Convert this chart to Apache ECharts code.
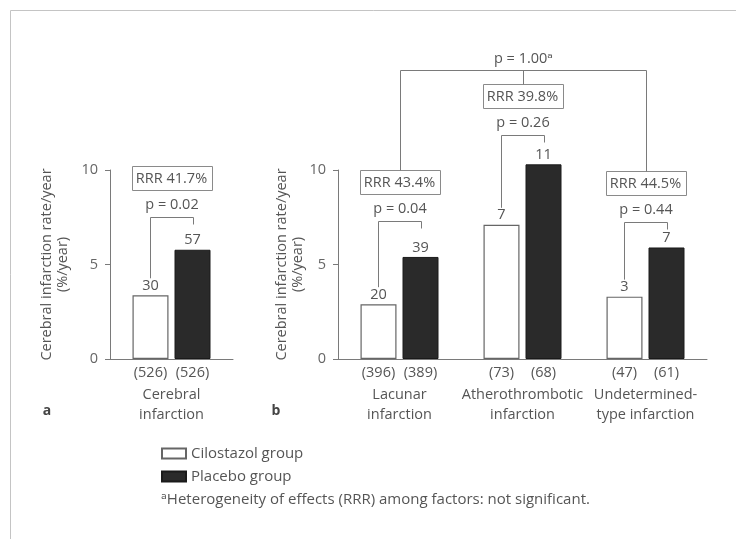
<!DOCTYPE html>
<html>
<head>
<meta charset="utf-8">
<script src="https://cdn.jsdelivr.net/npm/echarts@6/dist/echarts.min.js"></script>
<style>
  html, body { margin: 0; padding: 0; background: #fff; }
  #chart { width: 737px; height: 540px; }
</style>
</head>
<body>
<div id="chart"></div>
<script>
// Cerebral infarction rate per year, cilostazol vs placebo
const categoriesA = [['Cerebral', 'infarction']];
const categoriesB = [['Lacunar', 'infarction'], ['Atherothrombotic', 'infarction'], ['Undetermined-', 'type infarction']];

// rates (%/year)
const cilostazolA = [3.37];
const placeboA = [5.78];
const cilostazolB = [2.9, 7.1, 3.3];
const placeboB = [5.4, 10.3, 5.9];

// number of events above each bar
const eventsCilA = [30];
const eventsPlaA = [57];
const eventsCilB = [20, 7, 3];
const eventsPlaB = [39, 11, 7];

// number of patients under each bar
const nCilA = [526];
const nPlaA = [526];
const nCilB = [396, 73, 47];
const nPlaB = [389, 68, 61];

// comparisons drawn above each pair
const rrrTextA = ['RRR 41.7%'];
const pTextA = ['p = 0.02'];
const rrrTextB = ['RRR 43.4%', 'RRR 39.8%', 'RRR 44.5%'];
const pTextB = ['p = 0.04', 'p = 0.26', 'p = 0.44'];
const pOverall = 'p = 1.00\u1d43';

const yTicks = [0, 5, 10];

const FONT = '"Open Sans", "DejaVu Sans", sans-serif';
const FS = 14.5;
const TEXT = '#555';
const LINE = '#7a7a7a';
const DARK = '#2a2a2a';

const chart = echarts.init(document.getElementById('chart'), null, { renderer: 'canvas' });

function yAxisCfg(gridIndex, nameGap) {
  return {
    gridIndex, type: 'value', min: yTicks[0], max: yTicks[yTicks.length - 1], interval: yTicks[1] - yTicks[0],
    name: 'Cerebral infarction rate/year\n(%/year)', nameLocation: 'middle', nameGap,
    nameMoveOverlap: false,
    nameTextStyle: { fontFamily: FONT, fontSize: FS, color: TEXT, lineHeight: 16 },
    axisLine: { show: true, lineStyle: { color: LINE, width: 1 } },
    axisTick: { show: true, length: 5, lineStyle: { color: LINE } },
    axisLabel: { fontFamily: FONT, fontSize: FS, color: '#666', margin: 12 },
    splitLine: { show: false }
  };
}

function xAxisCfg(gridIndex, cats, nCil, nPla) {
  return {
    gridIndex, type: 'category', data: cats.map(c => c.join(' ')),
    axisLine: { show: true, lineStyle: { color: LINE, width: 1 } },
    axisTick: { show: false },
    axisLabel: {
      interval: 0, margin: 2, hideOverlap: false,
      formatter: (v, i) => `{n|(${nCil[i]})}{n|(${nPla[i]})}\n{c|${cats[i][0]}}\n{c|${cats[i][1]}}`,
      rich: {
        n: { width: 42, align: 'center', fontFamily: FONT, fontSize: FS, color: TEXT, lineHeight: 24 },
        c: { align: 'center', fontFamily: FONT, fontSize: FS, color: TEXT, lineHeight: 20 }
      }
    }
  };
}

function barSeries(name, xi, values, events, isPlacebo) {
  return {
    name, type: 'bar', xAxisIndex: xi, yAxisIndex: xi, data: values,
    barWidth: 36, barGap: '16.7%', clip: false,
    itemStyle: isPlacebo
      ? { color: DARK, borderColor: '#1a1a1a', borderWidth: 1 }
      : { color: '#fff', borderColor: '#666', borderWidth: 1.2 },
    label: {
      show: true, position: 'top', distance: 2,
      fontFamily: FONT, fontSize: FS, color: TEXT,
      formatter: p => String(events[p.dataIndex])
    },
    emphasis: { disabled: true }
  };
}

const option = {
  backgroundColor: '#fff',
  animation: false,
  grid: [
    { left: 110, width: 123, top: 170, bottom: 181 },
    { left: 338, width: 369, top: 170, bottom: 181 }
  ],
  xAxis: [xAxisCfg(0, categoriesA, nCilA, nPlaA), xAxisCfg(1, categoriesB, nCilB, nPlaB)],
  yAxis: [yAxisCfg(0, 39), yAxisCfg(1, 32)],
  legend: {
    orient: 'vertical', left: 161, top: 446, padding: 0, itemWidth: 24, itemHeight: 10, itemGap: 8,
    icon: 'rect', selectedMode: false,
    textStyle: { fontFamily: FONT, fontSize: 15, color: TEXT },
    data: ['Cilostazol group', 'Placebo group']
  },
  series: [
    barSeries('Cilostazol group', 0, cilostazolA, eventsCilA, false),
    barSeries('Placebo group', 0, placeboA, eventsPlaA, true),
    barSeries('Cilostazol group', 1, cilostazolB, eventsCilB, false),
    barSeries('Placebo group', 1, placeboB, eventsPlaB, true)
  ]
};
chart.setOption(option);

// ---- comparison brackets, placed from the axes' own scales ----
function barCenter(seriesIndex, dataIndex) {
  const layout = chart.getModel().getSeriesByIndex(seriesIndex).getData().getItemLayout(dataIndex);
  return { x: layout.x + layout.width / 2, top: Math.min(layout.y, layout.y + layout.height) };
}
const yPix = (axis, v) => chart.convertToPixel({ yAxisIndex: axis }, v);
const xPix = (axis, i) => chart.convertToPixel({ xAxisIndex: axis }, i);

// bracket height (in axis units) for each comparison
const groups = [
  { axis: 0, idx: 0, cil: 0, pla: 1, rrr: rrrTextA[0], p: pTextA[0], level: 7.5 },
  { axis: 1, idx: 0, cil: 2, pla: 3, rrr: rrrTextB[0], p: pTextB[0], level: 7.3 },
  { axis: 1, idx: 1, cil: 2, pla: 3, rrr: rrrTextB[1], p: pTextB[1], level: 11.85 },
  { axis: 1, idx: 2, cil: 2, pla: 3, rrr: rrrTextB[2], p: pTextB[2], level: 7.25 }
];

const lineStyle = { stroke: LINE, lineWidth: 1, fill: null };
const txt = (x, y, text, extra) => ({
  type: 'text', x, y, silent: true,
  style: Object.assign({ text, fill: TEXT, font: `${FS}px ${FONT}`, textAlign: 'center', textVerticalAlign: 'middle' }, extra || {})
});
const poly = pts => ({ type: 'polyline', silent: true, shape: { points: pts }, style: lineStyle });

const elements = [];
const boxes = [];
groups.forEach(g => {
  const c = barCenter(g.cil, g.idx);
  const p = barCenter(g.pla, g.idx);
  const cx = xPix(g.axis, g.idx);
  const yTop = Math.round(yPix(g.axis, g.level)) + 0.5;
  const xl = Math.round(c.x) + 0.5, xr = Math.round(p.x) + 0.5;
  elements.push(poly([[xl, c.top - 17], [xl, yTop], [xr, yTop], [xr, yTop + 7]]));
  const yP = yTop - 13;
  elements.push(txt((xl + xr) / 2, yP, g.p));
  const boxCy = yP - 27;
  const bw = 80, bh = 24;
  elements.push({
    type: 'rect', silent: true,
    shape: { x: Math.round(cx - bw / 2) + 0.5, y: Math.round(boxCy - bh / 2) + 0.5, width: bw, height: bh },
    style: { stroke: '#8a8a8a', lineWidth: 1, fill: null }
  });
  elements.push(txt(cx, boxCy + 1, g.rrr));
  boxes.push({ axis: g.axis, x: Math.round(cx) + 0.5, top: Math.round(boxCy - bh / 2) + 0.5 });
});

// overall heterogeneity bracket across the three subtypes
const bL = boxes[1], bM = boxes[2], bR = boxes[3];
const yHet = Math.round(yPix(1, 15.3)) + 0.5;
elements.push(poly([[bL.x, bL.top], [bL.x, yHet], [bR.x, yHet], [bR.x, bR.top]]));
elements.push(poly([[bM.x, yHet], [bM.x, bM.top]]));
elements.push(txt(bM.x, yHet - 12, pOverall));

// panel letters, footnote and frame
elements.push(txt(47, 411, 'a', { font: `bold 14px ${FONT}`, fill: '#444' }));
elements.push(txt(276, 411, 'b', { font: `bold 14px ${FONT}`, fill: '#444' }));
elements.push(txt(161, 500, '\u1d43Heterogeneity of effects (RRR) among factors: not significant.', { textAlign: 'left', font: `15px ${FONT}` }));
elements.push({ type: 'polyline', silent: true, shape: { points: [[10.5, 539], [10.5, 10.5], [736, 10.5]] }, style: { stroke: '#c4c4c4', lineWidth: 1, fill: null } });

chart.setOption({ graphic: { elements } });
</script>
</body>
</html>
